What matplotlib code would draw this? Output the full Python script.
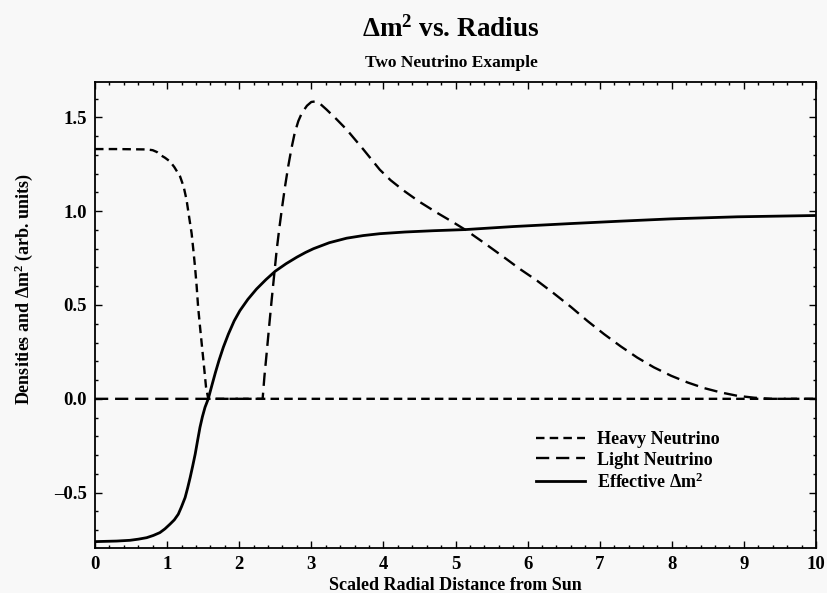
import matplotlib
matplotlib.use("Agg")
import matplotlib.pyplot as plt
from matplotlib.ticker import MultipleLocator

plt.rcParams['font.family'] = ['Liberation Serif', 'DejaVu Serif']
plt.rcParams['font.weight'] = 'bold'
plt.rcParams['mathtext.fontset'] = 'custom'
plt.rcParams['mathtext.rm'] = 'Liberation Serif:bold'
plt.rcParams['mathtext.bf'] = 'Liberation Serif:bold'
plt.rcParams['mathtext.it'] = 'Liberation Serif:bold:italic'

# Heavy neutrino density
heavy_x = [0.0, 0.3, 0.72, 0.80, 0.86, 0.90, 0.97, 1.04, 1.10, 1.18, 1.23, 1.27, 1.305, 1.34, 1.365,
           1.387, 1.41, 1.43, 1.455, 1.48, 1.51, 1.54, 1.571, 3.0, 6.0, 10.0]
heavy_y = [1.331, 1.331, 1.329, 1.325, 1.315, 1.301, 1.285, 1.265, 1.235, 1.185, 1.13, 1.06, 0.97, 0.882, 0.79,
           0.704, 0.60, 0.49, 0.39, 0.294, 0.18, 0.062, 0.0, 0.0, 0.0, 0.0]

# Light neutrino density
light_x = [0.0, 1.0, 2.325, 2.35, 2.38, 2.415, 2.45, 2.485, 2.52, 2.555, 2.59, 2.635, 2.68, 2.725, 2.77,
           2.82, 2.87, 2.94, 3.00, 3.06, 3.12, 3.21, 3.35, 3.49, 3.72, 3.95, 4.10, 4.28, 4.50, 4.75, 4.95,
           5.14, 5.40, 5.67, 5.90, 6.13, 6.37, 6.60, 6.83, 7.06, 7.29, 7.52, 7.75, 7.99, 8.22, 8.45,
           8.68, 8.91, 9.14, 9.375, 10.0]
light_y = [0.0, 0.0, 0.0, 0.12, 0.24, 0.385, 0.526, 0.66, 0.793, 0.905, 1.007, 1.13, 1.239, 1.335, 1.417,
           1.48, 1.524, 1.562, 1.582, 1.585, 1.573, 1.542, 1.49, 1.435, 1.33, 1.221, 1.165, 1.11, 1.05, 0.99, 0.945,
           0.90, 0.83, 0.755, 0.69, 0.63, 0.56, 0.49, 0.415, 0.345, 0.28, 0.22, 0.168, 0.123, 0.087, 0.057,
           0.034, 0.016, 0.006, 0.0, 0.0]

# Effective delta m^2
eff_x = [0.0, 0.3, 0.485, 0.60, 0.717, 0.81, 0.90, 0.97, 1.04, 1.10, 1.155, 1.20, 1.25, 1.285, 1.32,
         1.355, 1.39, 1.423, 1.456, 1.49, 1.526, 1.571, 1.62, 1.67, 1.72, 1.78, 1.85, 1.93, 2.01, 2.12,
         2.24, 2.37, 2.50, 2.65, 2.80, 2.92, 3.03, 3.25, 3.49, 3.72, 3.95, 4.30, 4.70, 5.14, 5.80, 6.60,
         7.30, 7.99, 8.91, 10.0]
eff_y = [-0.761, -0.758, -0.754, -0.748, -0.740, -0.728, -0.713, -0.693, -0.668, -0.645, -0.615, -0.575,
         -0.526, -0.475, -0.419, -0.358, -0.294, -0.222, -0.152, -0.095, -0.045, 0.0, 0.07, 0.14, 0.205,
         0.275, 0.345, 0.415, 0.47, 0.53, 0.585, 0.635, 0.68, 0.72, 0.755, 0.78, 0.80, 0.832, 0.856, 0.870,
         0.880, 0.889, 0.896, 0.902, 0.918, 0.934, 0.947, 0.959, 0.970, 0.977]

labels = ["Heavy Neutrino", "Light Neutrino", "Effective \u0394m$^{\\mathbf{2}}$"]

fig = plt.figure(figsize=(8.27, 5.93), dpi=100)
fig.patch.set_facecolor('#f8f8f8')
ax = fig.add_axes([95/827, 1-548/593, (816-95)/827, (548-81.7)/593])
ax.set_facecolor('#f8f8f8')

lw = 1.7
ax.plot(heavy_x, heavy_y, color='black', lw=lw, dashes=(3.6, 2.2), label=labels[0])
ax.plot(light_x, light_y, color='black', lw=lw, dashes=(5.6, 2.9), label=labels[1])
ax.plot(eff_x, eff_y, color='black', lw=lw + 0.3, label=labels[2])

ax.set_xlim(0, 10)
ax.set_ylim(-0.795, 1.69)
ax.xaxis.set_major_locator(MultipleLocator(1))
ax.xaxis.set_minor_locator(MultipleLocator(0.2))
ax.yaxis.set_major_locator(MultipleLocator(0.5))
ax.yaxis.set_minor_locator(MultipleLocator(0.1))
ax.tick_params(which='both', direction='in', top=True, right=True, width=1.0)
ax.tick_params(which='major', length=5, labelsize=13.5, pad=6)
ax.tick_params(which='minor', length=2.5)
for s in ax.spines.values():
    s.set_linewidth(1.3)
ax.yaxis.set_major_formatter(plt.FuncFormatter(lambda v, p: ("\u2013%.1f" % abs(v)) if v < 0 else "%.1f" % v))
for t in ax.get_xticklabels() + ax.get_yticklabels():
    t.set_fontweight('bold')

ax.set_xlabel("Scaled Radial Distance from Sun", fontsize=13, fontweight='bold', labelpad=3)
fig.text(24/827, 1-289/593, "Densities and \u0394m$^{\\mathbf{2}}$ (arb. units)", rotation=90,
         ha='center', va='center', fontsize=13, fontweight='bold')

fig.text(451/827, 1-29/593, "\u0394m$^{\\mathbf{2}}$ vs. Radius", ha='center', va='center',
         fontsize=19.5, fontweight='bold')
fig.text(451/827, 1-63/593, "Two Neutrino Example", ha='center', va='center', fontsize=12.5, fontweight='bold')

leg = ax.legend(loc='upper left', bbox_to_anchor=(536/827, 1-431/593), bbox_transform=fig.transFigure,
                frameon=False, handlelength=2.7, handletextpad=0.7, labelspacing=0.2,
                borderpad=0, borderaxespad=0, prop={'weight': 'bold', 'size': 13})

fig.savefig("out.png", dpi=100, facecolor=fig.get_facecolor())
